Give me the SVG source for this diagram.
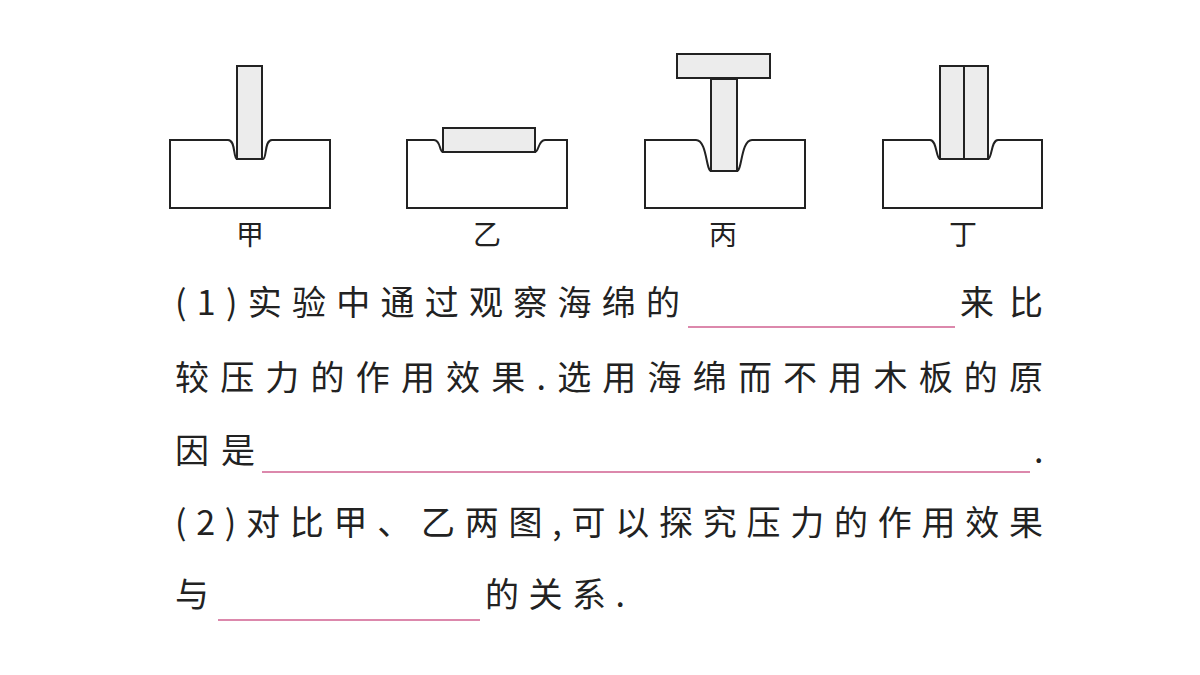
<svg xmlns="http://www.w3.org/2000/svg" width="1200" height="675" viewBox="0 0 1200 675">
<style>
.s{fill:#fff;stroke:#222;stroke-width:2}
.b{fill:#ececec;stroke:#222;stroke-width:2}
.l{font-family:"Noto Sans CJK SC","Noto Sans CJK JP",sans-serif;font-size:28px;fill:#222;text-anchor:middle}
.t{font-family:"Noto Sans CJK SC","Noto Sans CJK JP",sans-serif;font-size:34px;fill:#222}
.u{stroke:#d06090;stroke-width:1.5}
</style>
<rect width="1200" height="675" fill="#fff"/>
<g id="jia">
<path class="s" d="M170 140H228C236 140 233 159 237 159H263C267 159 264 140 272 140H330V208H170Z"/>
<rect class="b" x="237" y="66" width="25" height="93"/>
<text class="l" x="250" y="245">甲</text>
</g>
<g id="yi">
<path class="s" d="M407 140H434C441 140 439 152 443 152H535C539 152 538 140 545 140H567V208H407Z"/>
<rect class="b" x="443" y="128" width="92" height="24"/>
<text class="l" x="487" y="245">乙</text>
</g>
<g id="bing">
<path class="s" d="M645 140H696C707 140 706 171 711 171H737C742 171 741 140 752 140H805V208H645Z"/>
<rect class="b" x="711" y="79" width="26" height="92"/>
<rect class="b" x="677" y="54" width="93" height="24"/>
<text class="l" x="723" y="245">丙</text>
</g>
<g id="ding">
<path class="s" d="M883 140H930C937 140 936 159 940 159H988C992 159 991 140 998 140H1042V208H883Z"/>
<rect class="b" x="940" y="66" width="24" height="93"/>
<rect class="b" x="964" y="66" width="24" height="93"/>
<text class="l" x="963" y="245">丁</text>
</g>
<g id="text">
<text class="t" x="175" y="315" textLength="505" lengthAdjust="spacing">(1)实验中通过观察海绵的</text>
<line class="u" x1="688" y1="327" x2="955" y2="327"/>
<text class="t" x="960" y="315" textLength="83" lengthAdjust="spacing">来比</text>
<text class="t" x="175" y="390" textLength="868" lengthAdjust="spacing">较压力的作用效果.选用海绵而不用木板的原</text>
<text class="t" x="175" y="463" textLength="80" lengthAdjust="spacing">因是</text>
<line class="u" x1="262" y1="472" x2="1030" y2="472"/>
<text class="t" x="1034" y="463">.</text>
<text class="t" x="175" y="535" textLength="868" lengthAdjust="spacing">(2)对比甲、乙两图,可以探究压力的作用效果</text>
<text class="t" x="175" y="607">与</text>
<line class="u" x1="218" y1="620" x2="480" y2="620"/>
<text class="t" x="485" y="607" textLength="140" lengthAdjust="spacing">的关系.</text>
</g>
</svg>
